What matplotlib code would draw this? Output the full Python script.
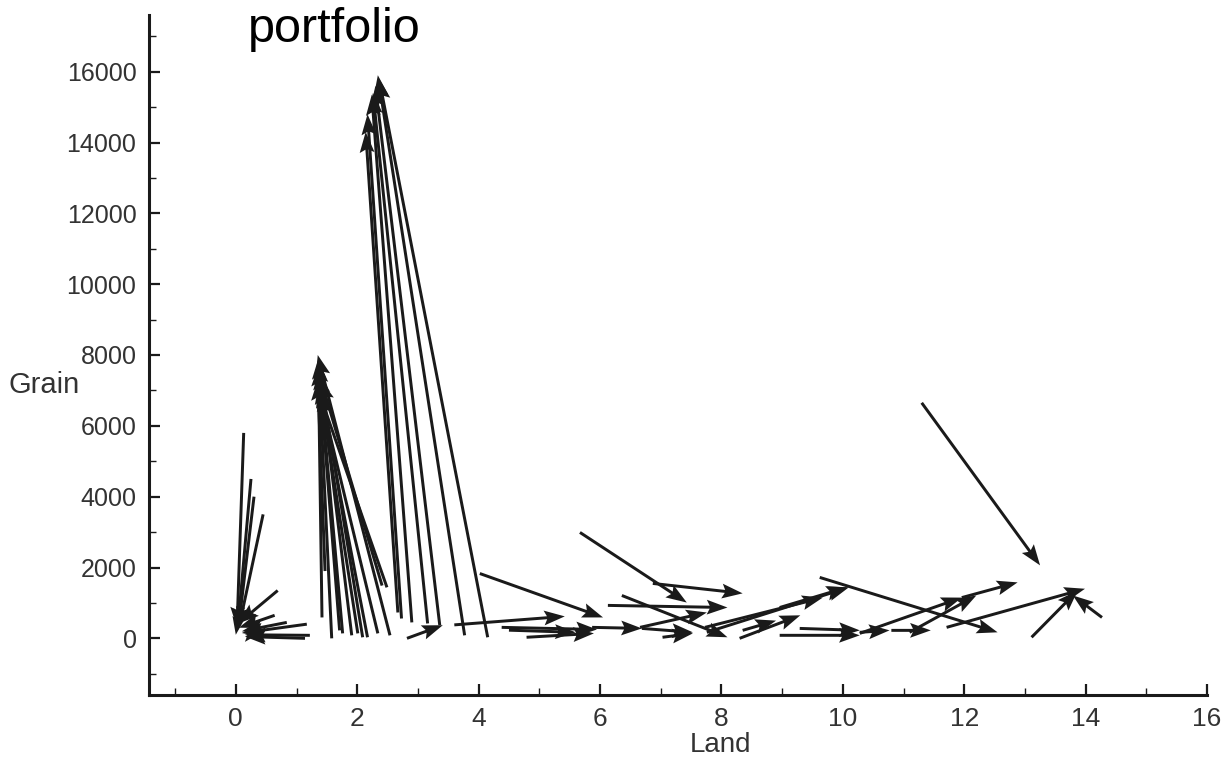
import numpy as np
import matplotlib
matplotlib.use("Agg")
import matplotlib.pyplot as plt
from matplotlib.ticker import MultipleLocator

plt.rcParams["font.family"] = ["Liberation Sans", "DejaVu Sans"]

# arrow tails (land, grain) and heads (land, grain)
# group near land = 0, heads at the bottom
a_x0 = [0.13, 0.25, 0.30, 0.45, 0.69, 0.64, 0.84, 1.17, 1.22, 1.14, 0.05, 0.30]
a_y0 = [5800, 4500, 4000, 3500, 1350, 650, 450, 400, 85, 0, 600, 200]
a_x1 = [0.02, 0.03, 0.04, 0.05, 0.04, 0.05, 0.10, 0.10, 0.15, 0.15, 0.00, 0.15]
a_y1 = [300, 250, 250, 300, 420, 300, 200, 150, 100, 50, 100, -100]

# group near land = 1.4, heads at ~8000
b_x0 = [1.42, 1.47, 1.58, 1.71, 1.76, 1.91, 2.01, 2.09, 2.17, 2.34, 2.54, 2.49, 2.41]
b_y0 = [590, 1900, 0, 225, 140, 85, 140, 30, 30, 140, 85, 1440, 1490]
b_x1 = [1.36, 1.35, 1.36, 1.37, 1.38, 1.36, 1.37, 1.38, 1.39, 1.36, 1.35, 1.38, 1.40]
b_y1 = [7700, 7300, 7900, 7600, 7400, 7800, 7200, 7500, 7000, 7100, 8000, 6900, 7300]

# group near land = 2.3, heads at ~15000
c_x0 = [2.67, 2.73, 2.90, 3.16, 3.36, 3.77, 4.15]
c_y0 = [730, 560, 450, 420, 370, 85, 30]
c_x1 = [2.14, 2.17, 2.24, 2.26, 2.30, 2.34, 2.36]
c_y1 = [14300, 14800, 15350, 15400, 15600, 15900, 15800]

# low grain trajectories, land 3 to 14
d_x0 = [4.02, 3.60, 2.82, 4.38, 4.79, 4.50, 5.87, 6.13, 6.36, 6.87, 5.67, 6.69,
        6.66, 7.03, 7.73, 7.76, 8.30, 8.35, 8.96, 9.29, 9.62, 11.30, 8.96, 10.28,
        11.96, 10.28, 10.80, 11.10, 11.71, 13.11, 14.27]
d_y0 = [1830, 380, 0, 310, 30, 230, 310, 930, 1210, 1550, 2990, 280,
        310, 30, 310, 170, 0, 225, 85, 280, 1720, 6650, 870, 140,
        1150, 170, 225, 170, 310, 30, 590]
d_x1 = [6.05, 5.42, 3.41, 5.95, 5.90, 5.60, 6.69, 8.10, 8.10, 8.35, 7.43, 7.53,
        7.76, 7.53, 9.67, 10.10, 9.30, 8.90, 10.28, 10.28, 12.55, 13.25, 10.07, 11.96,
        12.88, 10.77, 11.45, 12.20, 13.99, 13.87, 13.79]
d_y1 = [590, 620, 370, 250, 140, 170, 280, 870, 30, 1270, 1010, 170,
        730, 140, 1150, 1440, 650, 500, 85, 225, 170, 2060, 1440, 1150,
        1580, 225, 225, 1210, 1400, 1350, 1210]

x0 = np.array(a_x0 + b_x0 + c_x0 + d_x0)
y0 = np.array(a_y0 + b_y0 + c_y0 + d_y0, dtype=float)
x1 = np.array(a_x1 + b_x1 + c_x1 + d_x1)
y1 = np.array(a_y1 + b_y1 + c_y1 + d_y1, dtype=float)

fig = plt.figure(figsize=(12.23, 7.64), dpi=100)
ax = fig.add_axes([149 / 1223, 69 / 764, 1058 / 1223, 680 / 764])

ax.quiver(x0, y0, x1 - x0, y1 - y0, angles="xy", scale_units="xy", scale=1,
          color="#1a1a1a", width=0.0028, headwidth=5, headlength=7,
          headaxislength=6, minshaft=1, minlength=0)

ax.set_xlim(-1.43, 16)
ax.set_ylim(-1600, 17600)
ax.xaxis.set_major_locator(MultipleLocator(2))
ax.xaxis.set_minor_locator(MultipleLocator(1))
ax.yaxis.set_major_locator(MultipleLocator(2000))
ax.yaxis.set_minor_locator(MultipleLocator(1000))

for side in ["top", "right"]:
    ax.spines[side].set_visible(False)
for side in ["left", "bottom"]:
    ax.spines[side].set_linewidth(2.2)
    ax.spines[side].set_color("#1a1a1a")

ax.tick_params(which="major", direction="in", length=8, width=1.6, colors="#1a1a1a")
ax.tick_params(which="minor", direction="in", length=5, width=1.0, colors="#1a1a1a")
ax.tick_params(axis="y", labelsize=18, pad=9, labelcolor="#333333")
ax.tick_params(axis="x", labelsize=19, pad=9, labelcolor="#333333")

fig.text(720 / 1223, 1 - 745 / 764, "Land", ha="center", va="center",
         fontsize=20, color="#333333")
fig.text(8 / 1223, 1 - 385 / 764, "Grain", ha="left", va="center",
         fontsize=21, color="#333333")
fig.text(334 / 1223, 1 - 30 / 764, "portfolio", ha="center", va="center",
         fontsize=35, color="black")

fig.savefig("out.png", dpi=100)
